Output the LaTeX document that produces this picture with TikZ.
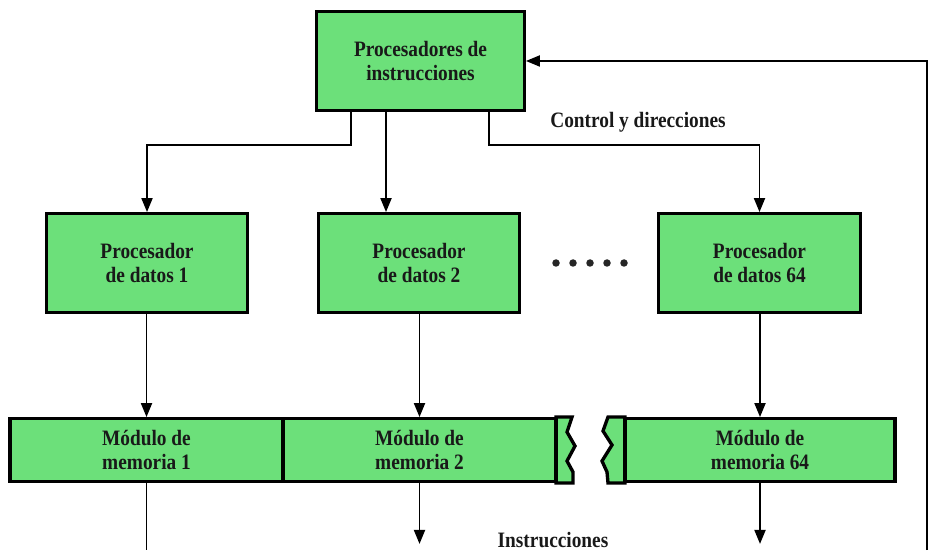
\documentclass[tikz,border=0pt]{standalone}
\usepackage{fontspec}
\setmainfont{Liberation Serif}[FakeStretch=0.88]
\usepackage{tikz}
\usetikzlibrary{arrows.meta}
\definecolor{boxgreen}{RGB}{108,224,122}

\begin{document}
\begin{tikzpicture}[
    every node/.style={font=\fontsize{12.5}{13.5}\selectfont\bfseries, text=black!90},
    block/.style={draw, fill=boxgreen, line width=1.9pt, align=center},
    conn/.style={line width=1.1pt, -{Triangle[length=2.8mm,width=2.2mm]}},
    plain/.style={line width=1.1pt}]
    \useasboundingbox (0,0) rectangle (18.6,11);

    % procesadores
    \node[block, minimum width=4.15cm, minimum height=1.97cm] (ip) at (8.41,9.78) {Procesadores de\\instrucciones};
    \node[block, minimum width=4.03cm, minimum height=1.97cm] (dp1) at (2.94,5.74) {Procesador\\de datos 1};
    \node[block, minimum width=4.03cm, minimum height=1.97cm] (dp2) at (8.38,5.74) {Procesador\\de datos 2};
    \node[block, minimum width=4.03cm, minimum height=1.97cm] (dp64) at (15.19,5.74) {Procesador\\de datos 64};
    \foreach \x in {11.12,11.46,11.8,12.14,12.48} \fill[black!85] (\x,5.74) circle (0.075);

    % modulos de memoria (bordes quebrados)
    \draw[fill=boxgreen, line width=1.9pt, line join=miter] (11.12,2.66) -- (11.44,2.66) -- (11.34,2.36) -- (11.5,2.08) -- (11.34,1.78) -- (11.46,1.56) -- (11.46,1.34) -- (11.12,1.34) -- cycle;
    \draw[fill=boxgreen, line width=1.9pt, line join=miter] (12.5,2.66) -- (12.16,2.66) -- (12.06,2.38) -- (12.24,2.1) -- (12.04,1.78) -- (12.14,1.56) -- (12.16,1.34) -- (12.5,1.34) -- cycle;
    \node[block, minimum width=5.46cm, minimum height=1.25cm] (mem1) at (2.93,2.0) {Módulo de\\memoria 1};
    \node[block, minimum width=5.46cm, minimum height=1.25cm] (mem2) at (8.39,2.0) {Módulo de\\memoria 2};
    \node[block, minimum width=5.4cm, minimum height=1.25cm] (mem64) at (15.2,2.0) {Módulo de\\memoria 64};

    % control y direcciones
    \draw[conn] ([xshift=-1.39cm]ip.south) -- ++(0,-0.66) -| (dp1.north);
    \draw[conn] ([xshift=-0.69cm]ip.south) -- ([xshift=-0.69cm]ip.south |- dp2.north);
    \draw[conn] ([xshift=1.37cm]ip.south) -- ++(0,-0.66) -| (dp64.north);
    \node (ctl) at (12.76,8.56) {Control y direcciones};

    \draw[conn] (dp1.south -| mem1.north) -- (mem1.north);
    \draw[conn] (dp2.south -| mem2.north) -- (mem2.north);
    \draw[conn] (dp64.south -| mem64.north) -- (mem64.north);

    % instrucciones
    \coordinate (out1) at (2.93,0);
    \coordinate (fb) at (18.54,0);
    \draw[plain] (mem1) -- (out1);
    \draw[conn] (mem2.south) -- ++(0,-1.22);
    \draw[conn] (mem64.south) -- ++(0,-1.22);
    \node (ins) at (11.06,0.2) {Instrucciones};
    \draw[conn] (fb) |- (ip.east);
\end{tikzpicture}
\end{document}
